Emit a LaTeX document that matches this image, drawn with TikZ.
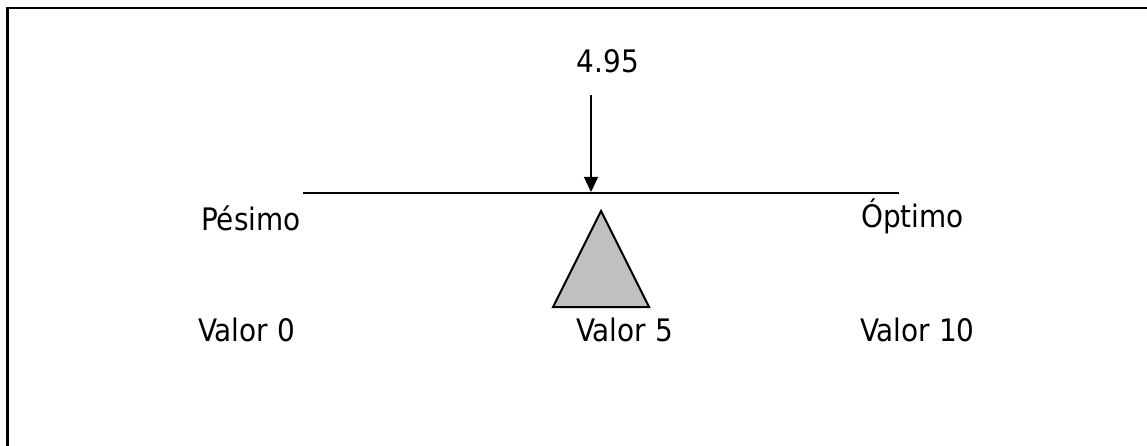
\documentclass[tikz,border=0pt]{standalone}
\usepackage{fontspec}
\setmainfont{DejaVu Sans Condensed}
\usetikzlibrary{arrows.meta}
\definecolor{fulcrumgray}{RGB}{192,192,192}

\begin{document}
\begin{tikzpicture}[x = 1pt, y = -1pt, label/.style = {anchor = base west, inner sep = 0pt, font = \fontsize{31}{37}\selectfont}]
    \useasboundingbox (0,0) rectangle (1147,446);
    \draw[line width = 2.5pt] (1170,460) -- (7.5,460) -- (7.5,8) -- (1170,8);
    \coordinate (L) at (303,193);
    \coordinate (R) at (899,193);
    \draw[line width = 2pt] (L) -- (R);
    \node[label, anchor = base] (V) at (608,73) {4.95};
    \coordinate (A) at (591,95);
    \coordinate (B) at (591,192);
    \draw[line width = 1.3pt, -{Triangle[width = 14pt, length = 15pt]}] (A) -- (B);
    \draw[line width = 2pt, fill = fulcrumgray] (601,211) -- (553,307) -- (649,307) -- cycle;
    \node[label] (P) at (201,230) {Pésimo};
    \node[label] (O) at (861,228) {Óptimo};
    \node[label] (V0) at (198,341) {Valor 0};
    \node[label] (V5) at (576,341) {Valor 5};
    \node[label] (V10) at (860,341) {Valor 10};
\end{tikzpicture}
\end{document}
